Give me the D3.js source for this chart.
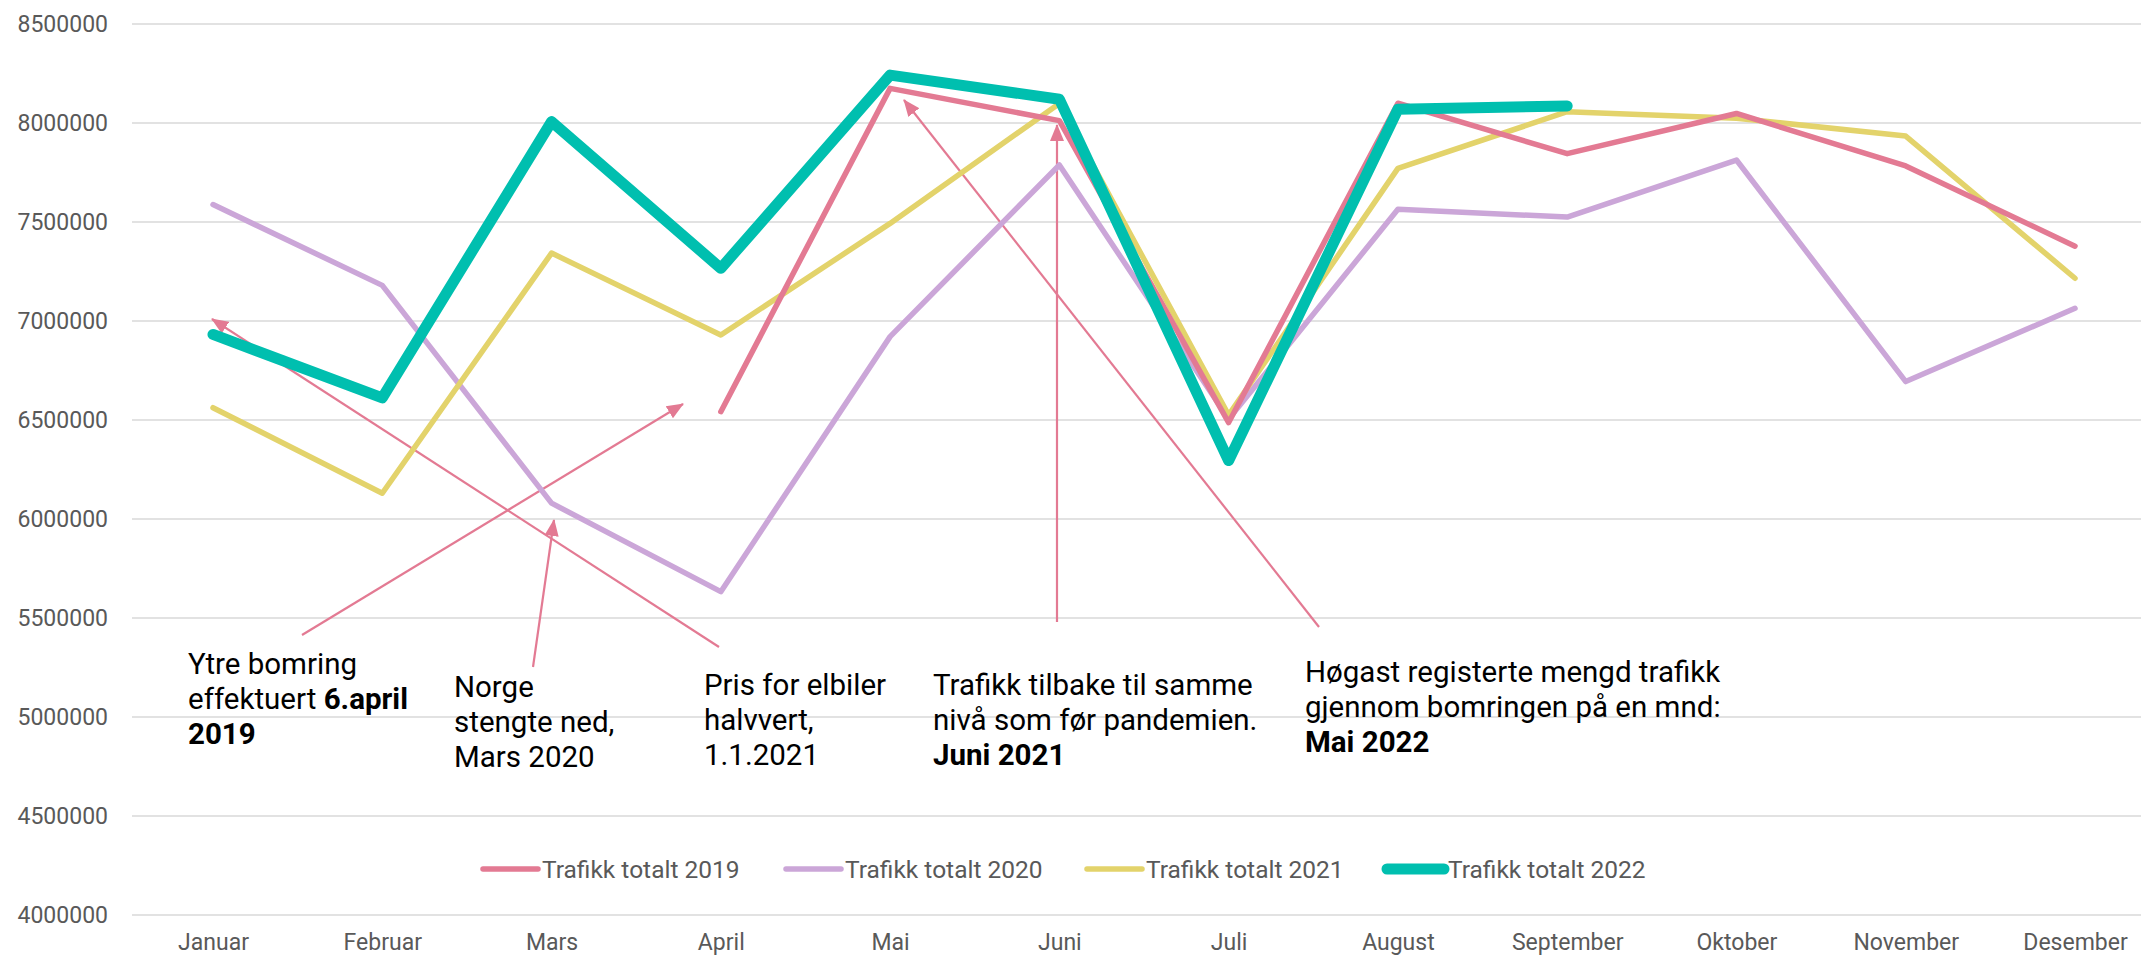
<!DOCTYPE html>
<html>
<head>
<meta charset="utf-8">
<script src="https://cdn.jsdelivr.net/npm/d3@7"></script>
<style>
  html, body { margin: 0; padding: 0; background: #fff; }
  svg { display: block; }
</style>
</head>
<body>
<svg id="chart" width="2141" height="957"></svg>
<script>
// ---- Data ----
const months = ["Januar","Februar","Mars","April","Mai","Juni","Juli","August","September","Oktober","November","Desember"];
const yTicks = [4000000,4500000,5000000,5500000,6000000,6500000,7000000,7500000,8000000,8500000];
const seriesNames = ["Trafikk totalt 2019","Trafikk totalt 2020","Trafikk totalt 2021","Trafikk totalt 2022"];
const traffic2019 = [null, null, null, 6542000, 8175000, 8012000, 6487000, 8100000, 7845000, 8048000, 7783000, 7378000];
const traffic2020 = [7588000, 7180000, 6080000, 5633000, 6921000, 7788000, 6505000, 7564000, 7525000, 7813000, 6694000, 7064000];
const traffic2021 = [6562000, 6130000, 7343000, 6929000, 7493000, 8099000, 6525000, 7771000, 8057000, 8024000, 7934000, 7216000];
const traffic2022 = [6932000, 6612000, 8007000, 7266000, 8242000, 8120000, 6295000, 8069000, 8086000, null, null, null];

// ---- Layout / style ----
const W = 2141, H = 957;
const plot = { left: 132, right: 2141, firstX: 213, lastX: 2075, top: 24, bottom: 915 };
const colors = ["#E37A93", "#CBA6D8", "#E3D36B", "#00BFAF"];
const widths = [5.5, 5.5, 5.5, 11];
const font = "Roboto, 'Noto Sans', sans-serif";
const greyText = "#595959";

const svg = d3.select("#chart");

const x = d3.scalePoint().domain(months).range([plot.firstX, plot.lastX]);
const y = d3.scaleLinear().domain([4000000, 8500000]).range([plot.bottom, plot.top]);

// gridlines
svg.append("g").selectAll("line").data(yTicks).join("line")
  .attr("x1", plot.left).attr("x2", plot.right)
  .attr("y1", d => y(d)).attr("y2", d => y(d))
  .attr("stroke", "#d9d9d9").attr("stroke-width", 1.5);

// y axis labels
const yAxis = d3.axisLeft(y).tickValues(yTicks).tickFormat(d3.format("d")).tickSize(0).tickPadding(0);
const gy = svg.append("g").attr("transform", "translate(108,0)").call(yAxis);
gy.select(".domain").remove();
gy.selectAll("text").attr("font-family", font).attr("font-size", 23).attr("fill", greyText);

// x axis labels
const xAxis = d3.axisBottom(x).tickSize(0).tickPadding(0);
const gx = svg.append("g").attr("transform", "translate(0,934)").call(xAxis);
gx.select(".domain").remove();
gx.selectAll("text").attr("font-family", font).attr("font-size", 23).attr("fill", greyText).attr("dy", "0.71em");

// ---- Annotations (arrows drawn beneath the lines) ----
const defs = svg.append("defs");
defs.append("marker").attr("id", "arrow")
  .attr("markerUnits", "userSpaceOnUse")
  .attr("viewBox", "0 -8 17 16").attr("refX", 16).attr("refY", 0)
  .attr("markerWidth", 17).attr("markerHeight", 16).attr("orient", "auto")
  .append("path").attr("d", "M0,-7L17,0L0,7Z").attr("fill", colors[0]);

const arrows = [
  { from: [302, 635], to: [683, 404] },
  { from: [719, 647], to: [212, 319] },
  { from: [533, 667], to: [554, 520] },
  { from: [1057, 622], to: [1057, 125] },
  { from: [1319, 627], to: [904, 100] }
];
svg.append("g").selectAll("line").data(arrows).join("line")
  .attr("x1", d => d.from[0]).attr("y1", d => d.from[1])
  .attr("x2", d => d.to[0]).attr("y2", d => d.to[1])
  .attr("stroke", colors[0]).attr("stroke-width", 2.2)
  .attr("marker-end", "url(#arrow)");

// ---- Lines ----
const allSeries = [traffic2019, traffic2020, traffic2021, traffic2022];
const line = d3.line()
  .defined(d => d != null)
  .x((d, i) => x(months[i]))
  .y(d => y(d));

const drawOrder = [1, 2, 0, 3];
svg.append("g").selectAll("path").data(drawOrder).join("path")
  .attr("d", k => line(allSeries[k]))
  .attr("fill", "none")
  .attr("stroke", k => colors[k])
  .attr("stroke-width", k => widths[k])
  .attr("stroke-linejoin", "round")
  .attr("stroke-linecap", "round");

// ---- Annotation texts ----
const notes = [
  { x: 188, y: 674, lines: [[["Ytre bomring", false]], [["effektuert ", false], ["6.april", true]], [["2019", true]]] },
  { x: 454, y: 697, lines: [[["Norge", false]], [["stengte ned,", false]], [["Mars 2020", false]]] },
  { x: 704, y: 695, lines: [[["Pris for elbiler", false]], [["halvvert,", false]], [["1.1.2021", false]]] },
  { x: 933, y: 695, lines: [[["Trafikk tilbake til samme", false]], [["nivå som før pandemien.", false]], [["Juni 2021", true]]] },
  { x: 1305, y: 682, lines: [[["Høgast registerte mengd trafikk", false]], [["gjennom bomringen på en mnd:", false]], [["Mai 2022", true]]] }
];
const lineH = 35;
notes.forEach(n => {
  const t = svg.append("text").attr("font-family", font).attr("font-size", 29.5).attr("fill", "#000");
  n.lines.forEach((ln, li) => {
    ln.forEach((part, pi) => {
      const ts = t.append("tspan").text(part[0]).attr("font-weight", part[1] ? "bold" : "normal");
      if (pi === 0) ts.attr("x", n.x).attr("y", n.y + li * lineH);
    });
  });
});

// ---- Legend ----
const legendX = [483, 786, 1087, 1387];
const lg = svg.append("g").selectAll("g").data(seriesNames).join("g")
  .attr("transform", (d, i) => `translate(${legendX[i]},869)`);
lg.append("line").attr("x1", 0).attr("x2", (d, i) => i === 3 ? 57 : 55).attr("y1", 0).attr("y2", 0)
  .attr("stroke", (d, i) => colors[i]).attr("stroke-width", (d, i) => widths[i])
  .attr("stroke-linecap", "round");
lg.append("text").attr("x", (d, i) => (i === 3 ? 61 : 59)).attr("y", 0).attr("dy", "0.35em")
  .attr("font-family", font).attr("font-size", 24.5).attr("fill", greyText).text(d => d);
</script>
</body>
</html>
